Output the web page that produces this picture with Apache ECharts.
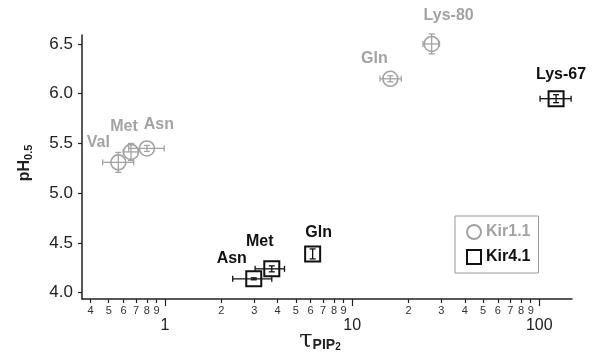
<!DOCTYPE html>
<html><head><meta charset="utf-8">
<script src="https://cdn.jsdelivr.net/npm/echarts@6/dist/echarts.min.js"></script>
<style>html,body{margin:0;padding:0;background:#fff}#c{width:594px;height:354px}</style>
</head><body><div id="c"></div>
<script>
// ---- data ----
const kir11Names = ['Val', 'Met', 'Asn', 'Gln', 'Lys-80'];
const kir11Tau   = [0.563, 0.658, 0.80, 16.0, 26.6];
const kir11TauLo = [0.464, 0.598, 0.64, 14.1, 23.9];
const kir11TauHi = [0.68, 0.72, 0.99, 18.3, 29.3];
const kir11PH    = [5.31, 5.415, 5.45, 6.15, 6.50];
const kir11PHLo  = [5.21, 5.33, 5.42, 6.12, 6.40];
const kir11PHHi  = [5.41, 5.50, 5.48, 6.18, 6.60];

const kir41Names = ['Asn', 'Met', 'Gln', 'Lys-67'];
const kir41Tau   = [2.98, 3.72, 6.15, 123];
const kir41TauLo = [2.30, 3.03, 6.15, 101];
const kir41TauHi = [3.72, 4.35, 6.15, 148];
const kir41PH    = [4.14, 4.24, 4.39, 5.95];
const kir41PHLo  = [4.13, 4.21, 4.34, 5.91];
const kir41PHHi  = [4.15, 4.27, 4.44, 5.99];

const yTicks = [4.0, 4.5, 5.0, 5.5, 6.0, 6.5];
const xMajorTicks = [1, 10, 100];
const xMinorTicks = [0.4, 0.5, 0.6, 0.7, 0.8, 0.9, 2, 3, 4, 5, 6, 7, 8, 9, 20, 30, 40, 50, 60, 70, 80, 90];
const xMinorLabels = ['4', '5', '6', '7', '8', '9', '2', '3', '4', '5', '6', '7', '8', '9', '2', '3', '4', '5', '6', '7', '8', '9'];

// ---- layout (label offsets in px) ----
const kir11LabelOffsets = [[-20, -20], [-7, -25], [12, -24], [-16, -20], [17, -28]];
const kir41LabelOffsets = [[-22, -20], [-12, -27], [6, -21], [5, -24]];

const GRAY = '#a3a3a3';
const BLACK = '#111111';
const FONT = 'Liberation Sans, Arial, sans-serif';
const X_MIN = 0.36, X_MAX = 149.6;

function pts(names, xs, ys, offs) {
  return names.map((n, i) => ({ name: n, value: [xs[i], ys[i]], label: { offset: offs[i] } }));
}
function errs(xs, ys, xl, xh, yl, yh) {
  return xs.map((x, i) => [x, ys[i], xl[i], xh[i], yl[i], yh[i]]);
}
function errorBars(color, lw) {
  return function (params, api) {
    const x = api.value(0), y = api.value(1);
    const xl = api.value(2), xh = api.value(3), yl = api.value(4), yh = api.value(5);
    const c = api.coord([x, y]);
    const a = api.coord([xl, y]), b = api.coord([xh, y]);
    const d = api.coord([x, yl]), e = api.coord([x, yh]);
    const cap = 3;
    const st = { stroke: color, lineWidth: lw, fill: null };
    const ch = [];
    const line = (x1, y1, x2, y2) => ch.push({ type: 'line', shape: { x1, y1, x2, y2 }, style: st });
    if (xh > xl) {
      line(a[0], c[1], b[0], c[1]);
      line(a[0], c[1] - cap, a[0], c[1] + cap);
      line(b[0], c[1] - cap, b[0], c[1] + cap);
    }
    if (yh > yl) {
      line(c[0], d[1], c[0], e[1]);
      line(c[0] - cap, d[1], c[0] + cap, d[1]);
      line(c[0] - cap, e[1], c[0] + cap, e[1]);
    }
    return { type: 'group', children: ch };
  };
}

const chart = echarts.init(document.getElementById('c'), null, { renderer: 'canvas' });
chart.setOption({
  animation: false,
  backgroundColor: '#fff',
  textStyle: { fontFamily: FONT },
  grid: { left: 82, right: 22, top: 35, bottom: 55, containLabel: false, outerBoundsMode: 'none' },
  xAxis: [{
    type: 'log', logBase: 10, min: X_MIN, max: X_MAX,
    axisLine: { show: true, lineStyle: { color: '#222', width: 1.5 } },
    axisTick: { show: true, length: 4, inside: false, customValues: xMinorTicks, lineStyle: { color: '#222', width: 1.2 } },
    axisLabel: {
      show: true, customValues: xMinorTicks, margin: 6, fontSize: 11, color: '#333', fontFamily: FONT,
      formatter: v => { const i = xMinorTicks.findIndex(t => Math.abs(t - v) < 1e-6 * t); return i >= 0 ? xMinorLabels[i] : ''; }
    },
    splitLine: { show: false }, minorTick: { show: false }
  }, {
    type: 'log', logBase: 10, min: X_MIN, max: X_MAX, position: 'bottom',
    axisLine: { show: false },
    axisTick: { show: true, length: 7, inside: false, customValues: xMajorTicks, lineStyle: { color: '#222', width: 1.2 } },
    axisLabel: { show: true, customValues: xMajorTicks, margin: 19, fontSize: 16, color: '#222', fontFamily: FONT, formatter: v => String(Math.round(v)) },
    splitLine: { show: false },
    name: '{t|τ}{s|PIP}{ss|2}', nameLocation: 'middle', nameGap: 30, nameMoveOverlap: false,
    nameTextStyle: {
      rich: {
        t: { fontSize: 24, color: '#222', fontFamily: 'DejaVu Serif, serif' },
        s: { fontSize: 14, fontWeight: 'bold', color: '#222', fontFamily: FONT, padding: [8, 0, 0, 0] },
        ss: { fontSize: 10, fontWeight: 'bold', color: '#222', fontFamily: FONT, padding: [13, 14, 0, 0] }
      }
    }
  }],
  yAxis: {
    type: 'value', min: 3.937, max: 6.59,
    axisLine: { show: true, lineStyle: { color: '#222', width: 1.5 } },
    axisTick: { show: true, length: 4, inside: false, customValues: yTicks, lineStyle: { color: '#222', width: 1.2 } },
    axisLabel: { show: true, customValues: yTicks, margin: 9, fontSize: 17, color: '#222', fontFamily: FONT, formatter: v => v.toFixed(1) },
    splitLine: { show: false },
    name: '{a|pH}{b|0.5}', nameLocation: 'middle', nameRotate: 90, nameGap: 48,
    nameTextStyle: {
      rich: {
        a: { fontSize: 16, fontWeight: 'bold', color: '#222', fontFamily: FONT, padding: [0, 0, 0, 8] },
        b: { fontSize: 11, fontWeight: 'bold', color: '#222', fontFamily: FONT, padding: [8, 0, 0, 0] }
      }
    }
  },
  legend: {
    show: true, orient: 'vertical', left: 455, top: 216,
    padding: [8, 8, 8, 11], itemGap: 9, itemWidth: 14, itemHeight: 14,
    borderColor: '#999', borderWidth: 1,
    textStyle: { fontSize: 16, fontWeight: 'bold', fontFamily: FONT },
    data: [
      { name: 'Kir1.1', textStyle: { color: GRAY } },
      { name: 'Kir4.1', textStyle: { color: BLACK } }
    ]
  },
  series: [
    {
      type: 'custom', name: 'Kir1.1 err', xAxisIndex: 0, yAxisIndex: 0,
      renderItem: errorBars(GRAY, 1.3), encode: { x: 0, y: 1 }, z: 3,
      data: errs(kir11Tau, kir11PH, kir11TauLo, kir11TauHi, kir11PHLo, kir11PHHi)
    },
    {
      type: 'custom', name: 'Kir4.1 err', xAxisIndex: 0, yAxisIndex: 0,
      renderItem: errorBars(BLACK, 1.3), encode: { x: 0, y: 1 }, z: 3,
      data: errs(kir41Tau, kir41PH, kir41TauLo, kir41TauHi, kir41PHLo, kir41PHHi)
    },
    {
      type: 'scatter', name: 'Kir1.1', xAxisIndex: 0, yAxisIndex: 0, z: 4,
      symbol: 'circle', symbolSize: 15,
      itemStyle: { color: 'rgba(255,255,255,0)', borderColor: GRAY, borderWidth: 1.6, opacity: 1 },
      label: { show: true, position: 'inside', formatter: p => p.name, fontSize: 16, fontWeight: 'bold', color: GRAY, fontFamily: FONT },
      emphasis: { disabled: true },
      data: pts(kir11Names, kir11Tau, kir11PH, kir11LabelOffsets)
    },
    {
      type: 'scatter', name: 'Kir4.1', xAxisIndex: 0, yAxisIndex: 0, z: 4,
      symbol: 'rect', symbolSize: 15,
      itemStyle: { color: 'rgba(255,255,255,0)', borderColor: BLACK, borderWidth: 2, opacity: 1 },
      label: { show: true, position: 'inside', formatter: p => p.name, fontSize: 16, fontWeight: 'bold', color: BLACK, fontFamily: FONT },
      emphasis: { disabled: true },
      data: pts(kir41Names, kir41Tau, kir41PH, kir41LabelOffsets)
    }
  ]
});
</script>
</body></html>
